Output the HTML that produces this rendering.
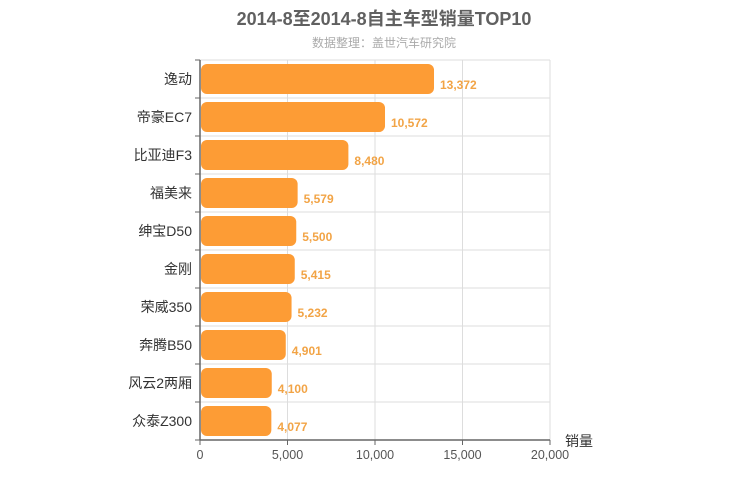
<!DOCTYPE html>
<html><head><meta charset="utf-8"><style>
body{margin:0;background:#fff;}
svg{display:block;font-family:"Liberation Sans","Noto Sans CJK SC",sans-serif;}
</style></head><body>
<svg id="c" width="750" height="500">
<text x="384" y="25" text-anchor="middle" font-size="18" font-weight="bold" fill="#606060">2014-8至2014-8自主车型销量TOP10</text>
<text x="384" y="47" text-anchor="middle" font-size="12" fill="#aaa">数据整理：盖世汽车研究院</text>
<g id="g"></g>
</svg>
<script>
const categories=["逸动","帝豪EC7","比亚迪F3","福美来","绅宝D50","金刚","荣威350","奔腾B50","风云2两厢","众泰Z300"];
const values=[13372,10572,8480,5579,5500,5415,5232,4901,4100,4077];
const ticks=[0,5000,10000,15000,20000];
const tickLabels=["0","5,000","10,000","15,000","20,000"];
const NS="http://www.w3.org/2000/svg",g=document.getElementById('g');
const x0=200,x1=550,y0=60,y1=440,xMax=20000;
const xs=v=>x0+v/xMax*(x1-x0);
const bh=(y1-y0)/categories.length;
function mk(t,a,txt){const e=document.createElementNS(NS,t);for(const k in a)e.setAttribute(k,a[k]);if(txt!=null)e.textContent=txt;g.appendChild(e);return e;}
ticks.forEach((t,i)=>{
 if(i>0){const l=mk('line',{x1:xs(t),x2:xs(t),y1:y0,y2:y1,stroke:'#ddd'});
 
 }
 const tk=mk('line',{x1:xs(t),x2:xs(t),y1:y1,y2:y1+5,stroke:'#666'});
 
 
 const tl=mk('text',{x:xs(t),y:y1+19,'text-anchor':'middle','font-size':12.5,fill:'#555'},tickLabels[i]);
 
 
});
for(let i=0;i<=categories.length;i++){
 const y=y0+i*bh;
 if(i<categories.length){const l=mk('line',{x1:x0,x2:x1,y1:y,y2:y,stroke:'#ddd'});
 
 }
 const tk=mk('line',{x1:x0-5,x2:x0,y1:y,y2:y,stroke:'#666'});
 
 
}
categories.forEach((c,i)=>{
 const yc=y0+i*bh+bh/2;
 const w=xs(values[i])-x0-1;
 const r=mk('rect',{x:x0+1,y:yc-15,width:w,height:30,rx:6,ry:6,fill:'#fd9c35'});
 
 
 const v=mk('text',{x:xs(values[i])+6,y:yc+10,'font-size':12,'font-weight':'bold',fill:'#f2a446'},values[i].toLocaleString('en-US'));
 
 
 const l=mk('text',{x:x0-8,y:yc+5,'text-anchor':'end','font-size':14,fill:'#333'},c);
 
 
});
const ax=mk('line',{x1:x0,x2:x1,y1:y1,y2:y1,stroke:'#666','stroke-width':1.5});


const ay=mk('line',{x1:x0,x2:x0,y1:y0,y2:y1,stroke:'#666','stroke-width':1.5});


const at=mk('text',{x:565,y:446,'font-size':14,fill:'#333'},'销量');


</script>
</body></html>
